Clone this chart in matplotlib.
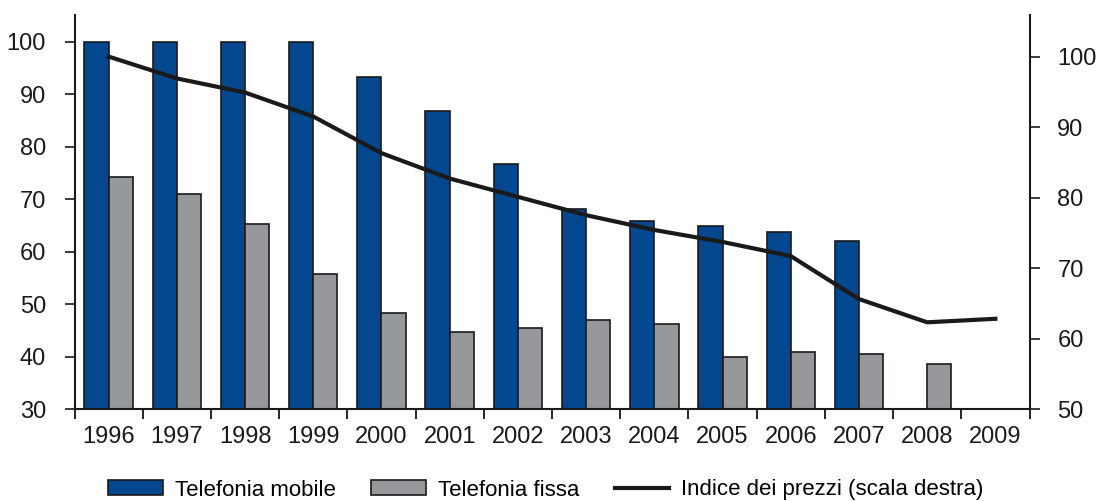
import matplotlib
matplotlib.use("Agg")
import matplotlib.pyplot as plt
from matplotlib.ticker import FixedLocator, NullFormatter
import numpy as np

plt.rcParams['font.family'] = ['Liberation Sans', 'DejaVu Sans']

years = ['1996', '1997', '1998', '1999', '2000', '2001', '2002',
         '2003', '2004', '2005', '2006', '2007', '2008', '2009']
mobile = [100, 100, 100, 100, 93.3, 86.8, 76.7, 68.1, 65.9, 64.8, 63.8, 62.0,
          np.nan, np.nan]
fissa = [74.2, 71.0, 65.2, 55.8, 48.3, 44.7, 45.4, 46.9, 46.2, 40.0, 40.8, 40.4,
         38.6, np.nan]
prezzi = [100, 96.9, 94.9, 91.5, 86.3, 82.7, 80.1, 77.5, 75.4, 73.7, 71.7, 65.6,
          62.3, 62.8]

blue = '#03488F'
gray = '#97989C'

fig = plt.figure(figsize=(10.97, 5.01), dpi=100)
ax = fig.add_axes([74.5 / 1097, 92 / 501, (1029.5 - 74.5) / 1097, (409 - 15) / 501])
ax2 = ax.twinx()

x = np.arange(len(years))
w = 0.355
ax.bar(x - w / 2, mobile, width=w, bottom=0, color=blue, edgecolor='#1a1a1a',
       linewidth=1.2, label='Telefonia mobile', zorder=2)
ax.bar(x + w / 2, fissa, width=w, bottom=0, color=gray, edgecolor='#1a1a1a',
       linewidth=1.2, label='Telefonia fissa', zorder=2)
line, = ax2.plot(x, prezzi, color='#1a1a1a', linewidth=3.0,
                 label='Indice dei prezzi (scala destra)', solid_joinstyle='round')

ax.set_xlim(-0.5, len(years) - 0.5)
ax.set_ylim(30, 105.1)
ax2.set_ylim(50, 105.9)
ax.set_yticks([30, 40, 50, 60, 70, 80, 90, 100])
ax2.set_yticks([50, 60, 70, 80, 90, 100])

ax.set_xticks(x)
ax.set_xticklabels(years)
ax.xaxis.set_minor_locator(FixedLocator(np.arange(-0.5, len(years), 1.0)))
ax.xaxis.set_minor_formatter(NullFormatter())
ax.tick_params(axis='x', which='major', length=0, pad=12, labelsize=17)
ax.tick_params(axis='x', which='minor', length=7, width=1.2, direction='out')
ax.tick_params(axis='y', length=7, width=1.2, direction='out', pad=13.5, labelsize=17,
               colors='#1a1a1a')
ax2.tick_params(axis='y', length=7, width=1.2, direction='out', pad=13, labelsize=17,
                colors='#1a1a1a')
ax.tick_params(axis='x', colors='#1a1a1a')

for a in (ax, ax2):
    a.spines['top'].set_visible(False)
    for s in ('left', 'right', 'bottom'):
        a.spines[s].set_linewidth(1.5)
        a.spines[s].set_color('#1a1a1a')
ax.spines['right'].set_visible(False)
ax2.spines['left'].set_visible(False)
ax2.spines['bottom'].set_visible(False)

handles, labels = ax.get_legend_handles_labels()
handles.append(line)
labels.append(line.get_label())
fig.legend(handles, labels, loc='center', bbox_to_anchor=(546 / 1097, 11 / 501),
           ncol=3, frameon=False, fontsize=16, handlelength=2.45,
           handleheight=0.62, handletextpad=0.55, columnspacing=1.6,
           borderpad=0, borderaxespad=0)

fig.savefig('out.png', dpi=100)
